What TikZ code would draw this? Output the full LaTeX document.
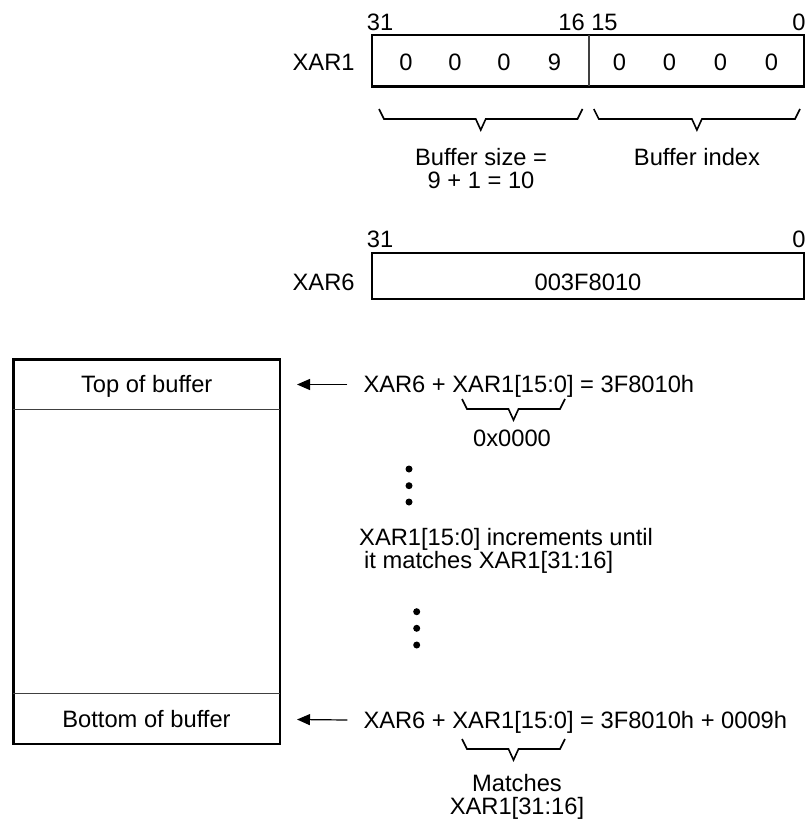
\documentclass[tikz,border=0pt]{standalone}
\usepackage{fontspec}
\setmainfont{Liberation Sans}
\usetikzlibrary{arrows.meta}
\newcommand\fsz{\fontsize{23.7}{23.7}\selectfont}
\newcommand\ubr[3]{\draw[bracestyle] (#1,#3) -- ({#1+5},{#3+10}) -- ({(#1+#2)/2-5},{#3+10}) -- ({(#1+#2)/2},{#3+21}) -- ({(#1+#2)/2+5},{#3+10}) -- ({#2-5},{#3+10}) -- (#2,#3);}
\begin{document}
\begin{tikzpicture}[x=1pt,y=-1pt,
  txt/.style={font=\fsz, inner sep=0pt, text height=16.8pt, text depth=0pt},
  thickbox/.style={line width=2.7pt},
  thinline/.style={line width=1.2pt, black!75},
  bracestyle/.style={line width=1.6pt, line join=miter},
  arr/.style={line width=1.2pt, -{Triangle[length=13pt,width=11pt]}},
  dot/.style={circle, fill=black, inner sep=0pt, minimum size=7pt}]
\useasboundingbox (0,0) rectangle (805,821);

% ---- XAR1 register
\node[txt] (b31a) at (380,22) {31};
\node[txt] (b1615) at (588,22) {16 15};
\node[txt] (b0a) at (799,22) {0};
\node[txt] (xar1) at (323.6,62) {XAR1};
\draw[thickbox] (372,35) rectangle (804,86.5);
\draw[thinline] (589,35) -- (589,86.5);
\node[txt] (d1) at (406,62) {0};
\node[txt] (d2) at (455,62) {0};
\node[txt] (d3) at (504,62) {0};
\node[txt] (d4) at (554.5,62) {9};
\node[txt] (d5) at (619.5,62) {0};
\node[txt] (d6) at (669.5,62) {0};
\node[txt] (d7) at (720.5,62) {0};
\node[txt] (d8) at (771.5,62) {0};
\ubr{379}{582.5}{109}
\ubr{593.8}{800}{109}
\node[txt] (bs1) at (481,157) {Buffer size =};
\node[txt] (bs2) at (481,180) {9 + 1 = 10};
\node[txt] (bidx) at (697,157) {Buffer index};

% ---- XAR6 register
\node[txt] (b31b) at (380,239) {31};
\node[txt] (b0b) at (799,239) {0};
\node[txt] (xar6) at (323.6,282) {XAR6};
\draw[thickbox] (372,253) rectangle (804,299);
\node[txt] (val6) at (588,282) {003F8010};

% ---- memory buffer
\draw[thickbox] (13.3,359.3) rectangle (280,744);
\draw[thinline] (13.3,409.3) -- (280,409.3);
\draw[thinline] (13.3,693.3) -- (280,693.3);
\node[txt] (topbuf) at (146.7,384.5) {Top of buffer};
\node[txt] (botbuf) at (146.5,719.5) {Bottom of buffer};

% ---- equations
\node[txt, anchor=west] (eq1) at (363.3,384.5) {XAR6 + XAR1[15:0] = 3F8010h};
\ubr{462}{565}{399}
\node[txt] (z0) at (512,438) {0x0000};
\draw[arr] ([xshift=-16pt]eq1.west) -- ([xshift=17pt]topbuf.east -| 280,0);

\node[dot] (p1) at (409,469) {};
\node[dot] (p2) at (409,485.7) {};
\node[dot] (p3) at (409,502) {};
\node[txt, anchor=west] (inc1) at (359,537) {XAR1[15:0] increments until};
\node[txt, anchor=west] (inc2) at (364,560) {it matches XAR1[31:16]};
\node[dot] (p4) at (416.7,611.7) {};
\node[dot] (p5) at (416.7,628.3) {};
\node[dot] (p6) at (416.7,645) {};

\node[txt, anchor=west] (eq2) at (363.3,720) {XAR6 + XAR1[15:0] = 3F8010h + 0009h};
\ubr{462}{565}{739}
\node[txt] (m1) at (517,783) {Matches};
\node[txt] (m2) at (517,806) {XAR1[31:16]};
\draw[arr] ([xshift=-16pt]eq2.west) -- ([xshift=17pt]botbuf.east -| 280,0);
\end{tikzpicture}
\end{document}
